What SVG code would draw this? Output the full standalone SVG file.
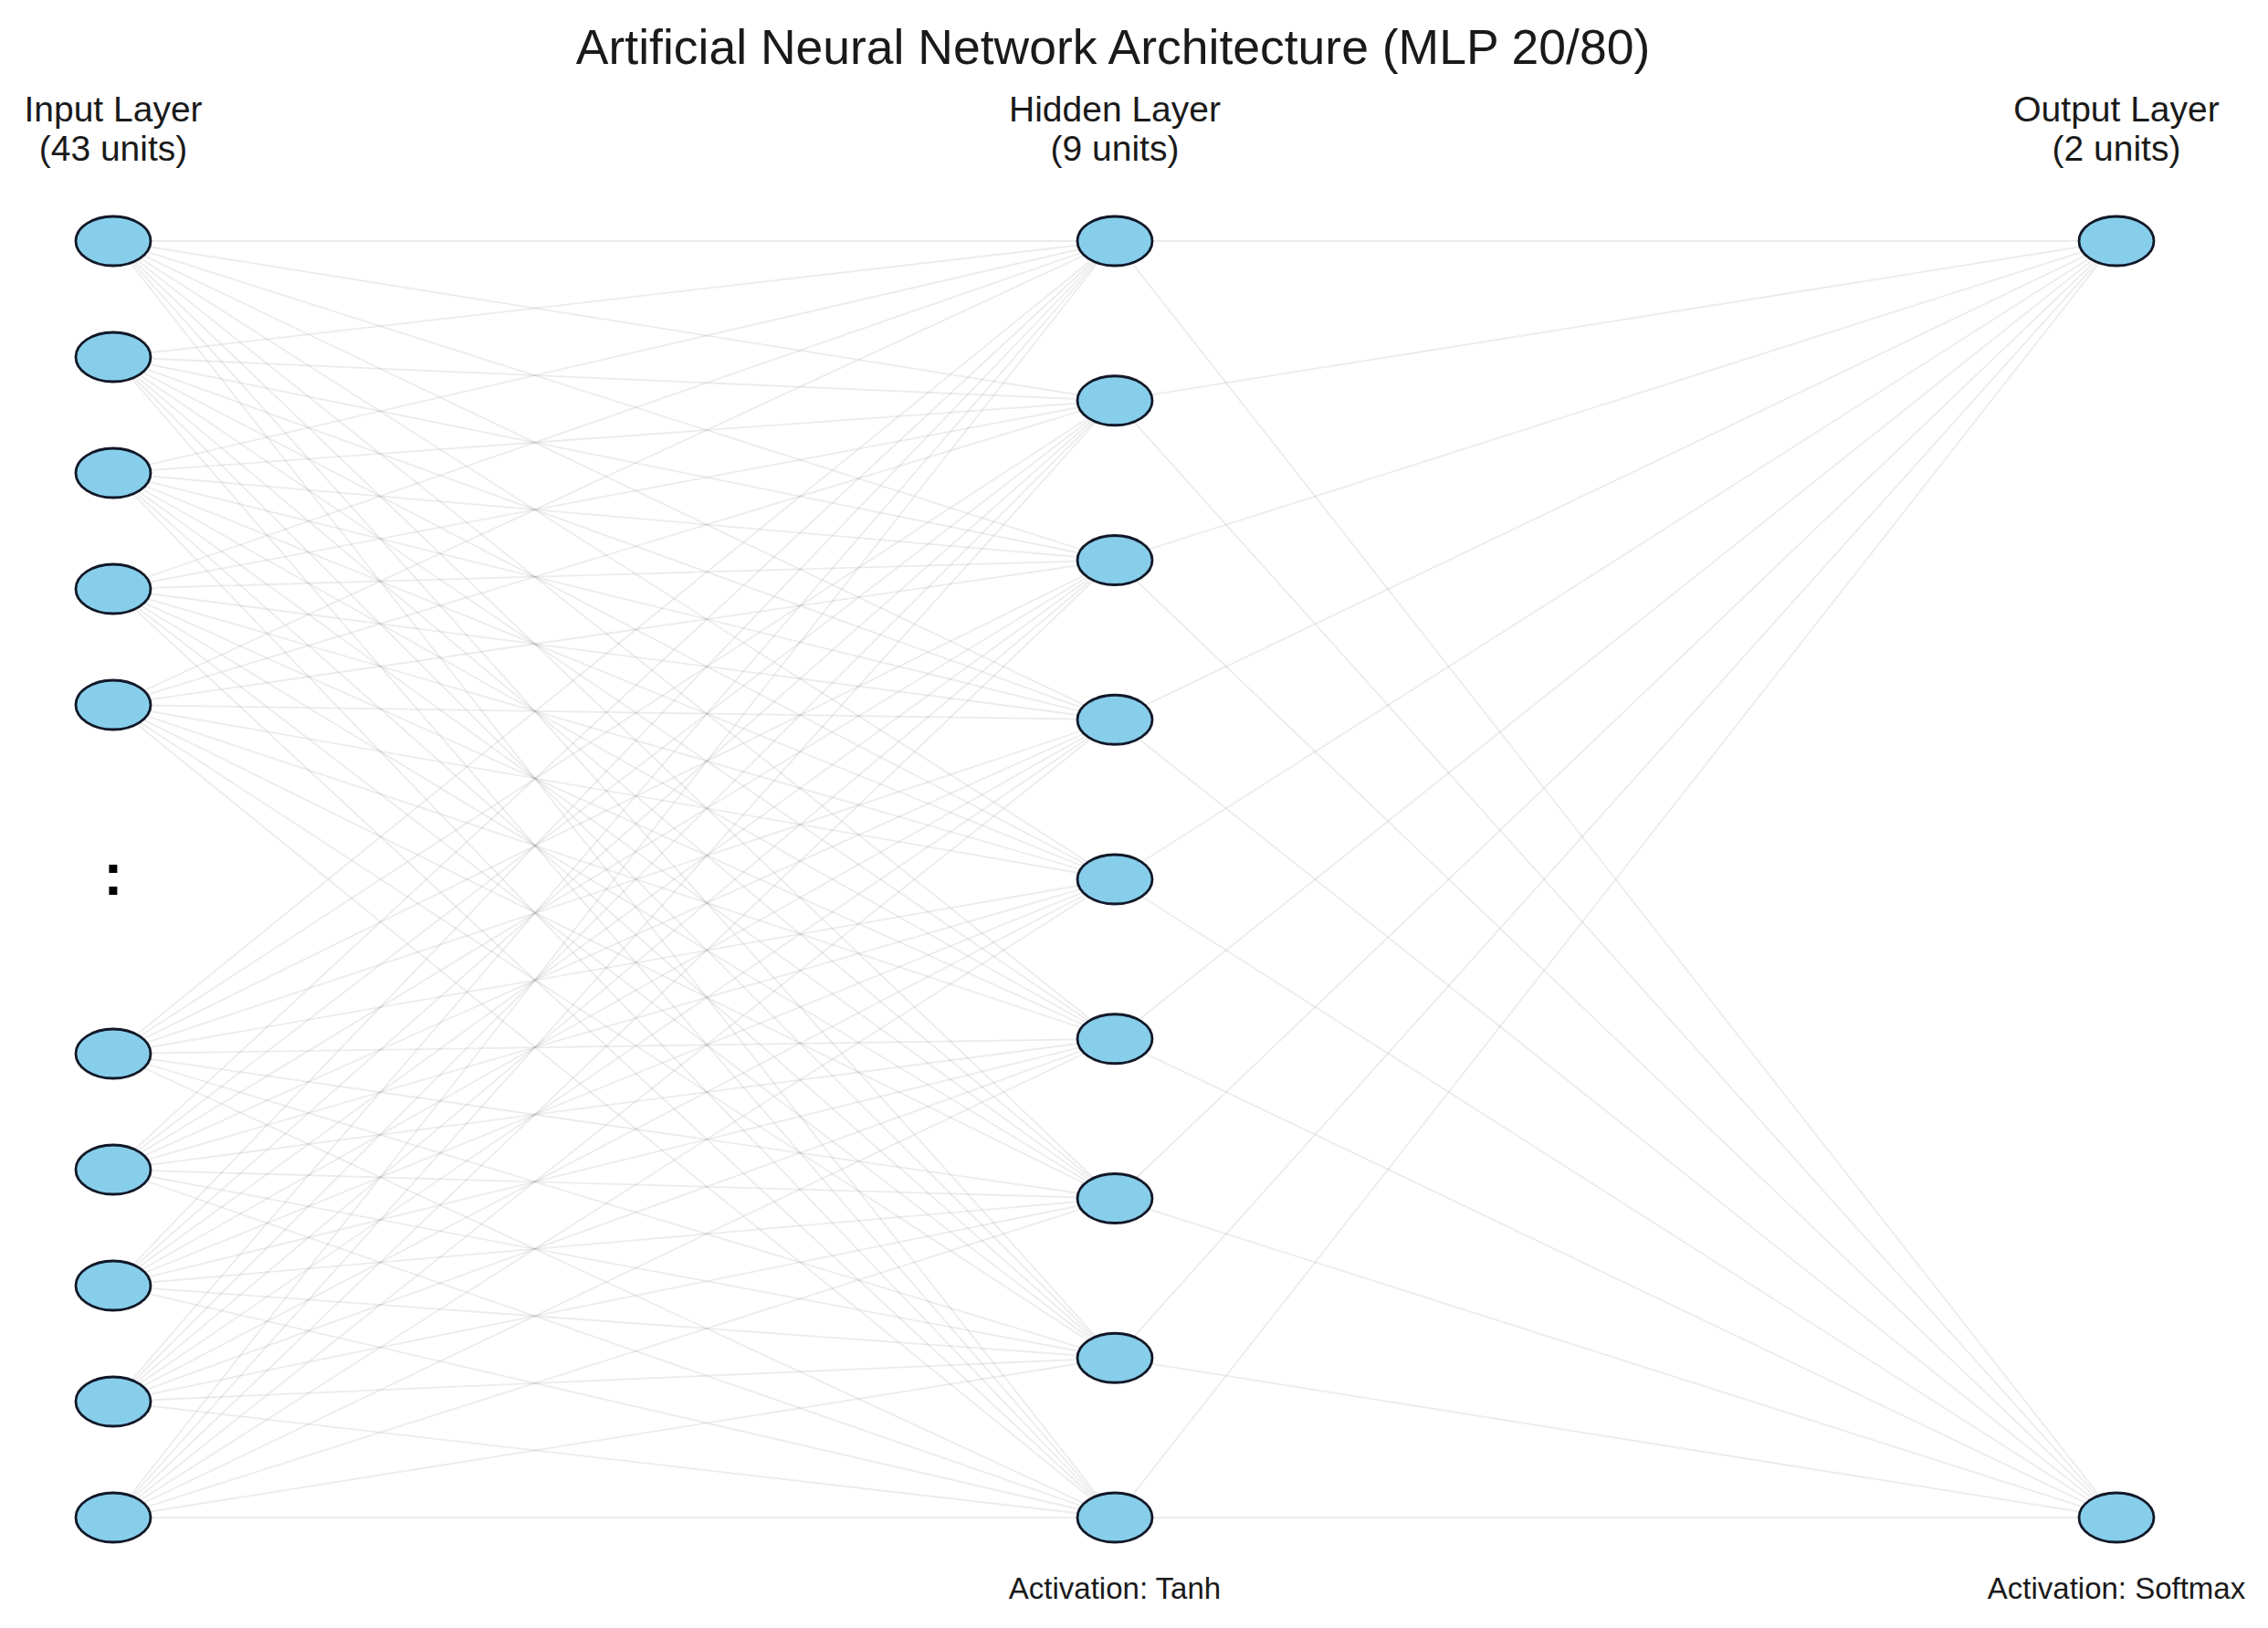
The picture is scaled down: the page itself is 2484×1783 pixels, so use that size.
<svg xmlns="http://www.w3.org/2000/svg" width="2484" height="1783" viewBox="0 0 2484 1783">
<defs>
<style>
.bg{fill:#ffffff}
.edge{stroke:#8c8c8c;stroke-opacity:0.17;stroke-width:1.8;fill:none}
.node{fill:#87CEEB;stroke:#111827;stroke-width:2.8}
.title{font-family:"Liberation Sans","Noto Sans",sans-serif;font-size:53.5px;fill:#1a1a1a;text-anchor:middle}
.layer{font-family:"Liberation Sans","Noto Sans",sans-serif;font-size:39px;fill:#1a1a1a;text-anchor:middle}
.act{font-family:"Liberation Sans","Noto Sans",sans-serif;font-size:33px;fill:#1a1a1a;text-anchor:middle}
.dots{font-family:"Liberation Sans","Noto Sans",sans-serif;font-size:64px;font-weight:bold;fill:#000;text-anchor:middle}
</style>
</defs>
<rect class="bg" x="0" y="0" width="2484" height="1783"/>
<text class="title" x="1219" y="70">Artificial Neural Network Architecture (MLP 20/80)</text>
<g id="labels">
<text class="layer" x="124" y="133">Input Layer</text>
<text class="layer" x="124" y="176">(43 units)</text>
<text class="layer" x="1221" y="133">Hidden Layer</text>
<text class="layer" x="1221" y="176">(9 units)</text>
<text class="layer" x="2318" y="133">Output Layer</text>
<text class="layer" x="2318" y="176">(2 units)</text>
<text class="act" x="1221" y="1751">Activation: Tanh</text>
<text class="act" x="2318" y="1751">Activation: Softmax</text>
</g>
<g id="connectors" class="edge">
<path d="M124 264L1221 264M124 264L1221 438.75M124 264L1221 613.5M124 264L1221 788.25M124 264L1221 963M124 264L1221 1137.75M124 264L1221 1312.5M124 264L1221 1487.25M124 264L1221 1662"/>
<path d="M124 391L1221 264M124 391L1221 438.75M124 391L1221 613.5M124 391L1221 788.25M124 391L1221 963M124 391L1221 1137.75M124 391L1221 1312.5M124 391L1221 1487.25M124 391L1221 1662"/>
<path d="M124 518L1221 264M124 518L1221 438.75M124 518L1221 613.5M124 518L1221 788.25M124 518L1221 963M124 518L1221 1137.75M124 518L1221 1312.5M124 518L1221 1487.25M124 518L1221 1662"/>
<path d="M124 645L1221 264M124 645L1221 438.75M124 645L1221 613.5M124 645L1221 788.25M124 645L1221 963M124 645L1221 1137.75M124 645L1221 1312.5M124 645L1221 1487.25M124 645L1221 1662"/>
<path d="M124 772L1221 264M124 772L1221 438.75M124 772L1221 613.5M124 772L1221 788.25M124 772L1221 963M124 772L1221 1137.75M124 772L1221 1312.5M124 772L1221 1487.25M124 772L1221 1662"/>
<path d="M124 1154L1221 264M124 1154L1221 438.75M124 1154L1221 613.5M124 1154L1221 788.25M124 1154L1221 963M124 1154L1221 1137.75M124 1154L1221 1312.5M124 1154L1221 1487.25M124 1154L1221 1662"/>
<path d="M124 1281L1221 264M124 1281L1221 438.75M124 1281L1221 613.5M124 1281L1221 788.25M124 1281L1221 963M124 1281L1221 1137.75M124 1281L1221 1312.5M124 1281L1221 1487.25M124 1281L1221 1662"/>
<path d="M124 1408L1221 264M124 1408L1221 438.75M124 1408L1221 613.5M124 1408L1221 788.25M124 1408L1221 963M124 1408L1221 1137.75M124 1408L1221 1312.5M124 1408L1221 1487.25M124 1408L1221 1662"/>
<path d="M124 1535L1221 264M124 1535L1221 438.75M124 1535L1221 613.5M124 1535L1221 788.25M124 1535L1221 963M124 1535L1221 1137.75M124 1535L1221 1312.5M124 1535L1221 1487.25M124 1535L1221 1662"/>
<path d="M124 1662L1221 264M124 1662L1221 438.75M124 1662L1221 613.5M124 1662L1221 788.25M124 1662L1221 963M124 1662L1221 1137.75M124 1662L1221 1312.5M124 1662L1221 1487.25M124 1662L1221 1662"/>
<path d="M1221 264L2318 264M1221 438.75L2318 264M1221 613.5L2318 264M1221 788.25L2318 264M1221 963L2318 264M1221 1137.75L2318 264M1221 1312.5L2318 264M1221 1487.25L2318 264M1221 1662L2318 264"/>
<path d="M1221 264L2318 1662M1221 438.75L2318 1662M1221 613.5L2318 1662M1221 788.25L2318 1662M1221 963L2318 1662M1221 1137.75L2318 1662M1221 1312.5L2318 1662M1221 1487.25L2318 1662M1221 1662L2318 1662"/>
</g>
<g id="input-layer">
<g id="in1"><ellipse class="node" cx="124" cy="264" rx="41" ry="27"/></g>
<g id="in2"><ellipse class="node" cx="124" cy="391" rx="41" ry="27"/></g>
<g id="in3"><ellipse class="node" cx="124" cy="518" rx="41" ry="27"/></g>
<g id="in4"><ellipse class="node" cx="124" cy="645" rx="41" ry="27"/></g>
<g id="in5"><ellipse class="node" cx="124" cy="772" rx="41" ry="27"/></g>
<g id="in-ellipsis"><text class="dots" x="124" y="980">:</text></g>
<g id="in39"><ellipse class="node" cx="124" cy="1154" rx="41" ry="27"/></g>
<g id="in40"><ellipse class="node" cx="124" cy="1281" rx="41" ry="27"/></g>
<g id="in41"><ellipse class="node" cx="124" cy="1408" rx="41" ry="27"/></g>
<g id="in42"><ellipse class="node" cx="124" cy="1535" rx="41" ry="27"/></g>
<g id="in43"><ellipse class="node" cx="124" cy="1662" rx="41" ry="27"/></g>
</g>
<g id="hidden-layer">
<g id="h1"><ellipse class="node" cx="1221" cy="264" rx="41" ry="27"/></g>
<g id="h2"><ellipse class="node" cx="1221" cy="438.75" rx="41" ry="27"/></g>
<g id="h3"><ellipse class="node" cx="1221" cy="613.5" rx="41" ry="27"/></g>
<g id="h4"><ellipse class="node" cx="1221" cy="788.25" rx="41" ry="27"/></g>
<g id="h5"><ellipse class="node" cx="1221" cy="963" rx="41" ry="27"/></g>
<g id="h6"><ellipse class="node" cx="1221" cy="1137.75" rx="41" ry="27"/></g>
<g id="h7"><ellipse class="node" cx="1221" cy="1312.5" rx="41" ry="27"/></g>
<g id="h8"><ellipse class="node" cx="1221" cy="1487.25" rx="41" ry="27"/></g>
<g id="h9"><ellipse class="node" cx="1221" cy="1662" rx="41" ry="27"/></g>
</g>
<g id="output-layer">
<g id="o1"><ellipse class="node" cx="2318" cy="264" rx="41" ry="27"/></g>
<g id="o2"><ellipse class="node" cx="2318" cy="1662" rx="41" ry="27"/></g>
</g>
</svg>
